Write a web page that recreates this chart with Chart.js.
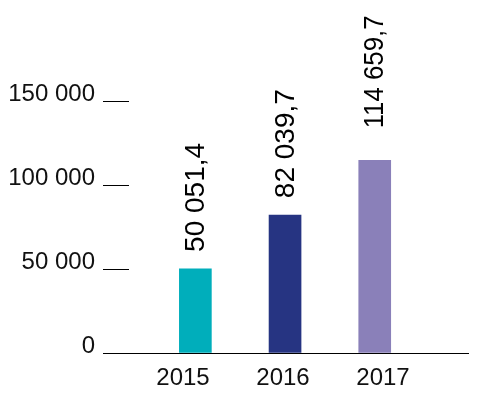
<!DOCTYPE html>
<html>
<head>
<meta charset="utf-8">
<script src="https://cdn.jsdelivr.net/npm/chart.js@4"></script>
<style>
  html, body { margin: 0; padding: 0; background: #fff; }
  #wrap { width: 480px; height: 399px; }
</style>
</head>
<body>
<div id="wrap"><canvas id="chart"></canvas></div>
<script>
// data
const years = [2015, 2016, 2017];
const values = [50051.4, 82039.7, 114659.7];
const barColors = ['#00AEBB', '#263482', '#8A80B9'];
const yTicks = [0, 50000, 100000, 150000];

const FONT = '"Liberation Sans", Arial, sans-serif';

function spaced(n) {
  return String(n).replace(/\B(?=(\d{3})+(?!\d))/g, ' ');
}

function valueLabel(v) {
  const parts = v.toFixed(1).split('.');
  return spaced(parts[0]) + ',' + parts[1];
}

// rotated value labels above each bar
// the last one sits higher and is squeezed a bit, like in the original
const barLabels = {
  id: 'barLabels',
  afterDatasetsDraw(chart, args, opts) {
    const ctx = chart.ctx;
    const meta = chart.getDatasetMeta(0);
    ctx.save();
    ctx.fillStyle = '#000';
    ctx.font = '28px ' + FONT;
    ctx.textAlign = 'left';
    ctx.textBaseline = 'middle';
    meta.data.forEach((bar, i) => {
      ctx.save();
      ctx.translate(bar.x + 1, bar.y - opts.gaps[i]);
      ctx.rotate(-Math.PI / 2);
      ctx.fillText(valueLabel(values[i]), 0, 0, opts.maxWidth);
      ctx.restore();
    });
    ctx.restore();
  }
};

new Chart(document.getElementById('chart'), {
  type: 'bar',
  data: {
    datasets: [{
      data: years.map((y, i) => ({ x: y, y: values[i] })),
      backgroundColor: barColors,
      barThickness: 32
    }]
  },
  options: {
    responsive: true,
    maintainAspectRatio: false,
    animation: false,
    layout: { padding: { top: 101, right: 12, bottom: 0, left: 0 } },
    plugins: {
      legend: { display: false },
      tooltip: { enabled: false },
      barLabels: { gaps: [17, 17, 32], maxWidth: 113 }
    },
    scales: {
      x: {
        type: 'linear',
        offset: false,
        min: 2014.26,
        max: 2018.04,
        afterBuildTicks: (scale) => { scale.ticks = years.map(v => ({ value: v })); },
        afterFit: (scale) => { scale.height = 0; },
        grid: { display: false, drawTicks: false, offset: false },
        border: { display: true, color: '#000', width: 1 },
        ticks: { display: false }
      },
      // year labels are spread a little wider than the bars
      xLabels: {
        type: 'linear',
        position: 'bottom',
        offset: false,
        min: 2014.46,
        max: 2017.85,
        afterBuildTicks: (scale) => { scale.ticks = years.map(v => ({ value: v })); },
        afterFit: (scale) => { scale.height = 46; },
        grid: { display: false, drawTicks: false },
        border: { display: false },
        ticks: {
          padding: 11,
          color: '#111',
          font: { family: FONT, size: 24 },
          maxRotation: 0,
          callback: (v) => String(v)
        }
      },
      y: {
        min: 0,
        max: 150000,
        afterBuildTicks: (scale) => { scale.ticks = yTicks.map(v => ({ value: v })); },
        afterFit: (scale) => { scale.width = 129; },
        grid: {
          drawOnChartArea: false,
          drawTicks: true,
          tickLength: 26,
          color: '#000',
          lineWidth: 1
        },
        border: { display: false },
        ticks: {
          padding: 8,
          color: '#111',
          font: { family: FONT, size: 24, lineHeight: 0.57 },
          // empty second line lifts the label so it sits on its tick
          callback: (v) => [spaced(v), '']
        }
      }
    }
  },
  plugins: [barLabels]
});
</script>
</body>
</html>
